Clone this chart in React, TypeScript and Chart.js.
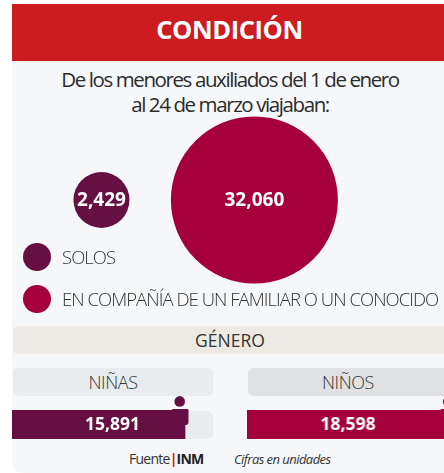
import React, { useEffect, useRef } from "react";
import { Chart, registerables } from "chart.js";

Chart.register(...registerables);

const condicionLabels = ["SOLOS", "EN COMPAÑÍA DE UN FAMILIAR O UN CONOCIDO"];
const condicionValues = [2429, 32060];
const generoLabels = ["NIÑAS", "NIÑOS"];
const generoValues = [15891, 18598];

const MAROON = "#660f42";
const CRIMSON = "#a6003a";
const FONT = '"Open Sans", "Noto Sans", sans-serif';
const fmt = (v: number) => v.toLocaleString("en-US");

const bubbleLabels = {
  id: "bubbleLabels",
  afterDatasetsDraw(chart: any) {
    const { ctx } = chart;
    chart.data.datasets.forEach((ds: any, i: number) => {
      const el = chart.getDatasetMeta(i).data[0];
      ctx.save();
      ctx.fillStyle = "#fff";
      ctx.font = `700 19px ${FONT}`;
      ctx.textAlign = "center";
      ctx.textBaseline = "middle";
      ctx.fillText(fmt(ds.value), el.x, el.y + 1);
      ctx.restore();
    });
  },
};

// Person icon + value label, anchored to the end of the bar through the scale
const personPlugin = {
  id: "person",
  afterDatasetsDraw(chart: any) {
    const { ctx, chartArea } = chart;
    const el = chart.getDatasetMeta(0).data[0];
    const v = chart.data.datasets[0].data[0];
    const color = chart.data.datasets[0].backgroundColor;
    const end = el.x;
    ctx.save();
    ctx.fillStyle = color;
    ctx.beginPath();
    ctx.arc(end - 5.3, chartArea.top - 8.6, 5.3, 0, Math.PI * 2);
    ctx.fill();
    ctx.beginPath();
    ctx.roundRect(end - 13, chartArea.top - 1, 16.5, 16, [1, 1, 3, 1]);
    ctx.fill();
    ctx.fillStyle = "#fff";
    ctx.font = `700 17.5px ${FONT}`;
    ctx.textAlign = "center";
    ctx.textBaseline = "middle";
    const cx = chart.options.plugins.person.labelX;
    ctx.fillText(fmt(v), cx, (chartArea.top + chartArea.bottom) / 2 + 1);
    ctx.restore();
  },
};

function BarChart({ i, color, left, width }: { i: number; color: string; left: number; width: number }) {
  const ref = useRef<HTMLCanvasElement>(null);
  useEffect(() => {
    const chart = new Chart(ref.current!, {
      type: "bar",
      data: {
        labels: [generoLabels[i]],
        datasets: [{ data: [generoValues[i]], backgroundColor: color, borderWidth: 0, barPercentage: 1, categoryPercentage: 1 }],
      },
      options: {
        indexAxis: "y",
        animation: false,
        responsive: false,
        layout: { padding: { top: 16, left: 0, right: 0, bottom: 0 } },
        scales: {
          x: { display: false, min: 0, max: 18463 },
          y: { display: false },
        },
        plugins: { legend: { display: false }, tooltip: { enabled: false }, person: { labelX: 100.5 } },
      } as any,
      plugins: [personPlugin],
    });
    return () => chart.destroy();
  }, []);
  return <canvas ref={ref} width={width} height={45} style={{ position: "absolute", left, top: 394, width, height: 45 }} />;
}

function Bubbles() {
  const ref = useRef<HTMLCanvasElement>(null);
  useEffect(() => {
    const chart = new Chart(ref.current!, {
      type: "bubble",
      data: {
        datasets: [
          { label: condicionLabels[0], value: condicionValues[0], data: [{ x: 1, y: 0 }], backgroundColor: MAROON, borderWidth: 0, radius: 28, clip: false },
          { label: condicionLabels[1], value: condicionValues[1], data: [{ x: 2, y: 0 }], backgroundColor: CRIMSON, borderWidth: 0, radius: 83.5, clip: false },
        ] as any,
      },
      options: {
        animation: false,
        responsive: false,
        layout: { padding: 0, autoPadding: false },
        scales: {
          x: { display: false, min: 0.415, max: 3.24 },
          y: { display: false, min: -1, max: 1 },
        },
        plugins: { legend: { display: false }, tooltip: { enabled: false } },
      } as any,
      plugins: [bubbleLabels],
    });
    return () => chart.destroy();
  }, []);
  return <canvas ref={ref} width={432} height={180} style={{ position: "absolute", left: 12, top: 110, width: 432, height: 180 }} />;
}

const abs = (s: React.CSSProperties): React.CSSProperties => ({ position: "absolute", ...s });

export default function App() {
  const legendY = [257, 298.5];
  const light: React.CSSProperties = { fontFamily: FONT, fontWeight: 300, color: "#333" };
  return (
    <div style={abs({ left: 0, top: 0, width: 444, height: 473, overflow: "hidden", background: "#fff", fontFamily: FONT })}>
      <div style={abs({ left: 12, top: 4, width: 432, height: 468.5, background: "#f6f7f9", borderBottomLeftRadius: 10 })} />
      <div style={abs({ left: 12, top: 4, width: 432, height: 57, background: "#cc1c20" })} />
      <div style={abs({ left: 11.5, top: 4, width: 436, height: 51, lineHeight: "51px", textAlign: "center", color: "#fff", fontWeight: 700, fontSize: 25.5, letterSpacing: -0.4 })}>CONDICIÓN</div>
      <div style={abs({ ...light, left: 0, top: 67, width: 460, textAlign: "center", fontSize: 20.5, lineHeight: "25px", fontWeight: 400, letterSpacing: -1.4, color: "#2b2b2b" })}>
        De los menores auxiliados del 1 de enero
        <br />
        al 24 de marzo viajaban:
      </div>
      <Bubbles />
      {condicionLabels.map((l, i) => (
        <React.Fragment key={l}>
          <div style={abs({ left: 23, top: legendY[i] - 14, width: 28, height: 28, borderRadius: 14, background: i ? CRIMSON : MAROON })} />
          <div style={abs({ ...light, left: 62, top: legendY[i] - 14, height: 28, lineHeight: "28px", fontSize: 18.5, letterSpacing: -0.95, whiteSpace: "nowrap" })}>{l}</div>
        </React.Fragment>
      ))}
      <div style={abs({ left: 13, top: 326, width: 431, height: 28, borderRadius: "5px 0 0 5px", background: "#eceae3" })} />
      <div style={abs({ left: 12, top: 326, width: 436, height: 28, lineHeight: "29px", textAlign: "center", fontSize: 17.5, color: "#333", fontWeight: 400 })}>GÉNERO</div>
      <div style={abs({ ...light, left: 13, top: 368, width: 200, height: 28, lineHeight: "29px", borderRadius: 5, background: "#e8ecee", textAlign: "center", fontSize: 18, letterSpacing: -0.4 })}>{generoLabels[0]}</div>
      <div style={abs({ ...light, left: 248, top: 368, width: 200, height: 28, lineHeight: "29px", borderRadius: 5, background: "#e0e1e3", textAlign: "center", fontSize: 18, letterSpacing: -0.4 })}>{generoLabels[1]}</div>
      <div style={abs({ left: 13, top: 411, width: 200, height: 27.5, borderRadius: 5, background: "#e8ecee" })} />
      <BarChart i={0} color={MAROON} left={12} width={201} />
      <BarChart i={1} color={CRIMSON} left={247} width={204.5} />
      <div style={abs({ left: 129, top: 449, height: 20, lineHeight: "20px", fontSize: 14, letterSpacing: -0.75, color: "#333", whiteSpace: "nowrap" })}>
        Fuente<span style={{ color: "#cc1c20", fontWeight: 700 }}>|</span><b style={{ color: "#222" }}>INM</b>
      </div>
      <div style={abs({ left: 234, top: 449, height: 20, lineHeight: "20px", fontSize: 13, letterSpacing: -0.55, fontStyle: "italic", color: "#333", whiteSpace: "nowrap" })}>Cifras en unidades</div>
    </div>
  );
}
